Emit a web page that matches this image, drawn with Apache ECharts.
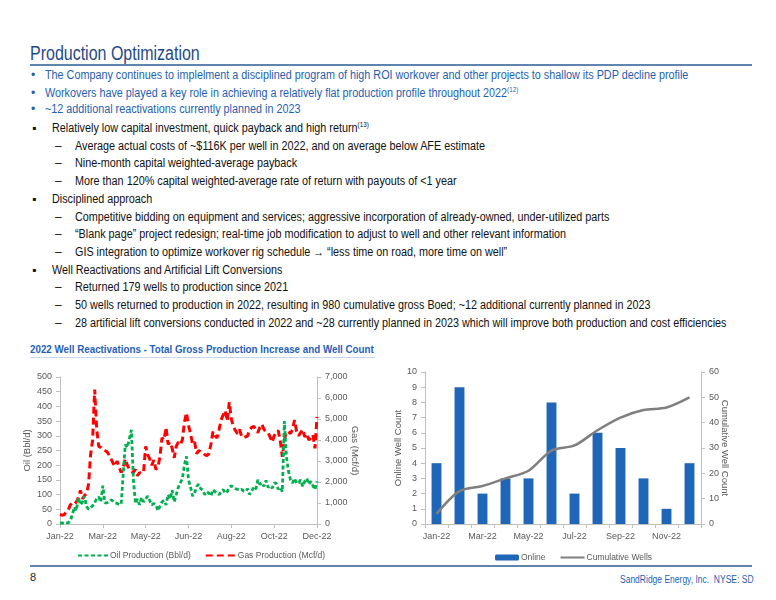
<!DOCTYPE html>
<html>
<head>
<meta charset="utf-8">
<script src="https://cdn.jsdelivr.net/npm/echarts@6/dist/echarts.min.js"></script>
<style>
  body { margin: 0; width: 776px; height: 600px; background: #fff; position: relative; overflow: hidden;
         font-family: "Liberation Sans", Arial, sans-serif; }
  .t { position: absolute; white-space: nowrap; line-height: 14px; transform-origin: 0 50%; }
  .sq { transform: scaleX(0.9); }
  .blue { color: #1f5fb0; font-size: 12px; }
  .blk { color: #111; font-size: 12px; }
  sup { font-size: 7px; vertical-align: 5px; line-height: 0; }
  #c1 { position: absolute; left: 0; top: 360px; width: 380px; height: 205px; }
  #c2 { position: absolute; left: 380px; top: 360px; width: 396px; height: 205px; }
</style>
</head>
<body>
<div class="t" style="left:30px;top:41px;font-size:19.5px;line-height:24px;color:#1f4a86;transform:scaleX(0.82);">Production Optimization</div>
<div style="position:absolute;left:30px;top:64px;width:722px;height:2px;background:#5f84ad;"></div>

<div class="t blue" style="left:31px;top:68px;">•</div>
<div class="t blue sq" style="left:45px;top:68px;">The Company continues to implelment a disciplined program of high ROI workover and other projects to shallow its PDP decline profile</div>
<div class="t blue" style="left:31px;top:86px;">•</div>
<div class="t blue sq" style="left:45px;top:86px;">Workovers have played a key role in achieving a relatively flat production profile throughout 2022<sup>(12)</sup></div>
<div class="t blue" style="left:31px;top:102px;">•</div>
<div class="t blue sq" style="left:45px;top:102px;">~12 additional reactivations currently planned in 2023</div>

<div id="bul"></div>

<div class="t" style="left:30px;top:342px;font-size:11px;font-weight:bold;color:#1f5fb8;transform:scaleX(0.89);">2022 Well Reactivations - Total Gross Production Increase and Well Count</div>
<div style="position:absolute;left:30px;top:357px;width:345px;height:1px;background:#c9d8ea;"></div>

<div id="c1"></div>
<div id="c2"></div>

<div style="position:absolute;left:30px;top:565px;width:722px;height:2px;background:#5f84ad;"></div>
<div class="t" style="left:30px;top:570px;font-size:11px;color:#222;">8</div>
<div class="t" style="left:620px;top:573px;font-size:10px;color:#1f5fb0;transform:scaleX(0.85);">SandRidge Energy, Inc.&nbsp; NYSE: SD</div>

<script>
// ---- slide bullets ----
const bulletLines = [
  ["main", "Relatively low capital investment, quick payback and high return", "(13)"],
  ["sub", "Average actual costs of ~$116K per well in 2022, and on average below AFE estimate"],
  ["sub", "Nine-month capital weighted-average payback"],
  ["sub", "More than 120% capital weighted-average rate of return with payouts of <1 year"],
  ["main", "Disciplined approach"],
  ["sub", "Competitive bidding on equipment and services; aggressive incorporation of already-owned, under-utilized parts"],
  ["sub", "\u201cBlank page\u201d project redesign; real-time job modification to adjust to well and other relevant information"],
  ["sub", "GIS integration to optimize workover rig schedule \u2192 \u201cless time on road, more time on well\u201d"],
  ["main", "Well Reactivations and Artificial Lift Conversions"],
  ["sub", "Returned 179 wells to production since 2021"],
  ["sub", "50 wells returned to production in 2022, resulting in 980 cumulative gross Boed; ~12 additional currently planned in 2023"],
  ["sub", "28 artificial lift conversions conducted in 2022 and ~28 currently planned in 2023 which will improve both production and cost efficiencies"],
];
const bul = document.getElementById("bul");
bulletLines.forEach((l, i) => {
  const top = 121 + i * 17.7;
  const mark = document.createElement("div");
  mark.className = "t blk";
  mark.style.left = (l[0] === "main" ? 32 : 55) + "px";
  mark.style.top = top + "px";
  mark.textContent = l[0] === "main" ? "\u25aa" : "\u2013";
  bul.appendChild(mark);
  const txt = document.createElement("div");
  txt.className = "t blk sq";
  txt.style.left = (l[0] === "main" ? 52 : 75) + "px";
  txt.style.top = top + "px";
  txt.textContent = l[1];
  if (l[2]) {
    const s = document.createElement("sup");
    s.textContent = l[2];
    txt.appendChild(s);
  }
  bul.appendChild(txt);
});

// ---- left chart data (sampled roughly every 2.7 days) ----
const prodTicks = ["Jan-22", "Mar-22", "May-22", "Jun-22", "Aug-22", "Oct-22", "Dec-22"];
const oilBbl = [
  3, 4, 2, 5, 4, 10, 30, 58, 45, 90,
  65, 75, 95, 60, 50, 55, 62, 72, 88, 92,
  75, 130, 72, 72, 75, 82, 78, 72, 70, 66,
  68, 170, 270, 260, 290, 320, 150, 70, 85, 65,
  90, 75, 85, 95, 80, 65, 70, 65, 45, 60,
  75, 80, 65, 100, 85, 115, 75, 100, 125, 140,
  155, 200, 230, 150, 125, 95, 105, 128, 135, 120,
  115, 100, 110, 105, 95, 117, 110, 105, 100, 110,
  117, 105, 110, 125, 130, 125, 120, 118, 115, 118,
  112, 110, 120, 100, 112, 125, 118, 150, 135, 140,
  128, 148, 125, 130, 122, 138, 140, 118, 125, 110,
  350, 230, 180, 150, 140, 155, 138, 140, 150, 128,
  145, 155, 135, 145, 130, 117, 145
];
const gasMcf = [
  450, 420, 440, 560, 650, 900, 1000, 950, 1050, 1250,
  1600, 1200, 1350, 1450, 1900, 3300, 4000, 6400, 4500, 3700,
  3650, 3550, 3500, 3450, 3300, 3100, 2900, 2750, 3000, 2700,
  2450, 2700, 3100, 2800, 2600, 2500, 2450, 2600, 2300, 2450,
  2400, 2500, 3700, 3300, 3100, 2800, 3050, 2600, 2700, 3200,
  4100, 4000, 4600, 3800, 3900, 3600, 3150, 3700, 3900, 3800,
  4000, 4850, 5300, 4700, 4300, 3800, 3900, 3350, 3500, 3450,
  3400, 3300, 3250, 3350, 3800, 4400, 4200, 4100, 4500, 4950,
  5200, 5400, 4900, 5800, 5000, 4650, 4450, 4300, 4500, 4200,
  4100, 4150, 4200, 4500, 4600, 4650, 4500, 4350, 4600, 4750,
  4500, 4400, 4350, 4150, 3900, 4200, 4350, 4450, 3950, 3200,
  4000, 4400, 4400, 4300, 4500, 4950, 4400, 4200, 4350, 4500,
  4150, 4300, 4000, 4100, 4250, 3600, 5100
];

// ---- right chart data ----
const months = ["Jan-22", "Feb-22", "Mar-22", "Apr-22", "May-22", "Jun-22",
                "Jul-22", "Aug-22", "Sep-22", "Oct-22", "Nov-22", "Dec-22"];
const onlineWells = [4, 9, 2, 3, 3, 8, 2, 6, 5, 3, 1, 4];
const cumulativeWells = [4, 13, 15, 18, 21, 29, 31, 37, 42, 45, 46, 50];

const grey = "#595959";
const axisGrey = "#bfbfbf";
const font = "Liberation Sans";
const legendText = { color: grey, fontSize: 8.5, fontFamily: font, padding: [0, 0, 0, -3] };

const yAx = (extra) => Object.assign({
  type: "value",
  splitLine: { show: false },
  axisLine: { show: true, lineStyle: { color: axisGrey } },
  axisTick: { show: true, length: 4, lineStyle: { color: axisGrey } },
  axisLabel: { color: grey, fontSize: 9, fontFamily: font },
  nameLocation: "middle",
  nameMoveOverlap: false,
  nameTextStyle: { color: grey, fontSize: 9.5, fontFamily: font },
}, extra);

const step = (oilBbl.length - 1) / (prodTicks.length - 1);
const c1 = echarts.init(document.getElementById("c1"));
c1.setOption({
  animation: false,
  grid: { left: 60, right: 63, top: 17, bottom: 41, outerBoundsMode: "none" },
  legend: {
    top: 186, left: 72, itemWidth: 30, itemHeight: 4, itemGap: 14,
    textStyle: legendText,
    data: [
      { name: "Oil Production (Bbl/d)", itemStyle: { opacity: 0 } },
      { name: "Gas Production (Mcf/d)", itemStyle: { opacity: 0 } },
    ],
  },
  xAxis: {
    type: "value", min: 0, max: oilBbl.length - 1, interval: step,
    splitLine: { show: false },
    axisLine: { lineStyle: { color: axisGrey } },
    axisTick: { show: true, length: 4, lineStyle: { color: axisGrey } },
    axisLabel: {
      color: grey, fontSize: 9, fontFamily: font, margin: 8,
      formatter: (v) => prodTicks[Math.round(v / step)] || "",
    },
  },
  yAxis: [
    yAx({ min: 0, max: 500, interval: 50, name: "Oil (Bbl/d)", nameGap: 28, nameRotate: 90 }),
    yAx({ min: 0, max: 7000, interval: 1000, name: "Gas (Mcf/d)", nameGap: 33, nameRotate: -90,
          axisLabel: { color: grey, fontSize: 9, fontFamily: font,
                       formatter: (v) => v.toLocaleString("en-US") } }),
  ],
  series: [
    {
      name: "Oil Production (Bbl/d)", type: "line", yAxisIndex: 0, symbol: "none",
      data: oilBbl.map((v, i) => [i, v]),
      lineStyle: { color: "#00b050", width: 2.8, type: [4, 2.5] },
      itemStyle: { color: "#00b050" }, z: 3,
    },
    {
      name: "Gas Production (Mcf/d)", type: "line", yAxisIndex: 1, symbol: "none",
      data: gasMcf.map((v, i) => [i, v]),
      lineStyle: { color: "#ff0000", width: 3, type: [7, 4] },
      itemStyle: { color: "#ff0000" }, z: 2,
    },
  ],
});

const c2 = echarts.init(document.getElementById("c2"));
c2.setOption({
  animation: false,
  grid: { left: 45, right: 75, top: 12, bottom: 41, outerBoundsMode: "none" },
  legend: {
    top: 188, left: 110, itemGap: 14, itemWidth: 24, itemHeight: 6,
    textStyle: legendText,
    data: [
      { name: "Online" },
      { name: "Cumulative Wells", itemStyle: { opacity: 0 } },
    ],
  },
  xAxis: {
    type: "category", data: months,
    axisLine: { lineStyle: { color: axisGrey } },
    axisTick: { show: true, length: 4, interval: 0, lineStyle: { color: axisGrey } },
    axisLabel: { color: grey, fontSize: 9, fontFamily: font, interval: 1, margin: 8 },
  },
  yAxis: [
    yAx({ min: 0, max: 10, interval: 1, name: "Online Well Count", nameGap: 22, nameRotate: 90 }),
    yAx({ min: 0, max: 60, interval: 10, name: "Cumulative Well Count", nameGap: 19, nameRotate: -90 }),
  ],
  series: [
    {
      name: "Online", type: "bar", yAxisIndex: 0, data: onlineWells, barWidth: "43%",
      legendIcon: "rect", itemStyle: { color: "#1f65b8" },
    },
    {
      name: "Cumulative Wells", type: "line", yAxisIndex: 1, data: cumulativeWells,
      smooth: 0.3, symbol: "none",
      lineStyle: { color: "#7f7f7f", width: 2.5 }, itemStyle: { color: "#7f7f7f" },
    },
  ],
});
</script>
</body>
</html>
